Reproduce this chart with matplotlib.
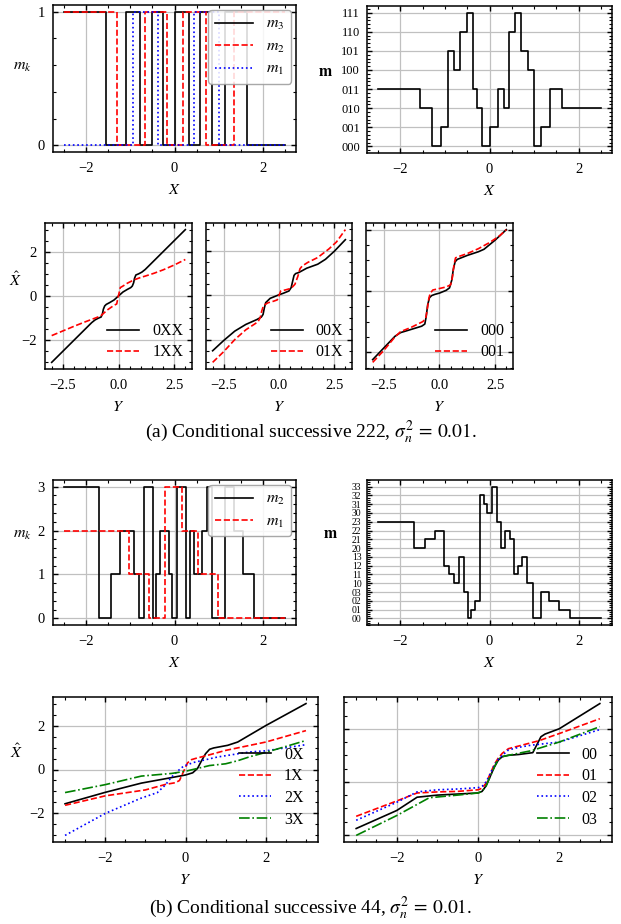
import numpy as np
import matplotlib
matplotlib.use("Agg")
from matplotlib import pyplot as plt
from matplotlib.ticker import MultipleLocator, AutoMinorLocator, FixedLocator

# --- (a) 3-bit conditional successive quantizer, codeword steps over X ---
edges_a = [-2.5, -1.55, -1.30, -1.10, -0.93, -0.79, -0.66, -0.50, -0.37, -0.27, -0.16,
           0.0, 0.19, 0.33, 0.44, 0.57, 0.71, 0.86, 1.0, 1.15, 1.35, 1.63, 2.5]
codes_a = ['011', '010', '000', '001', '101', '100', '110', '111', '011', '010', '000',
           '001', '011', '010', '110', '111', '101', '100', '000', '001', '011', '010']
labels_a = ['000', '001', '010', '011', '100', '101', '110', '111']

# reconstruction curves Xhat(Y)
a1_black_x = [-3.0, -2.0, -1.2, -1.05, -0.9, -0.78, -0.72, -0.68, -0.62, -0.55, -0.4, -0.2, 0.0,
              0.2, 0.4, 0.55, 0.62, 0.68, 0.72, 0.78, 0.9, 1.05, 1.2, 2.0, 3.0]
a1_black_y = [-3.0, -2.0, -1.2, -1.08, -1.0, -0.95, -0.8, -0.6, -0.45, -0.38, -0.3, -0.18, 0.0,
              0.18, 0.3, 0.38, 0.45, 0.6, 0.8, 0.95, 1.0, 1.08, 1.2, 2.0, 3.0]
a1_red_x = [-3.0, -2.5, -2.0, -1.5, -1.0, -0.8, -0.5, -0.2, -0.08, -0.03, 0.03, 0.08, 0.2,
            0.4, 0.7, 1.0, 1.2, 1.6, 2.0, 2.5, 3.0]
a1_red_y = [-1.79, -1.58, -1.37, -1.17, -0.98, -0.9, -0.63, -0.42, -0.36, -0.1, 0.15, 0.38, 0.45,
            0.58, 0.73, 0.84, 0.9, 1.03, 1.18, 1.4, 1.65]

a2_black_x = [-3.0, -2.5, -2.0, -1.5, -1.0, -0.8, -0.72, -0.66, -0.6, -0.4, -0.2, 0.0, 0.2, 0.45,
              0.55, 0.62, 0.68, 0.75, 0.9, 1.25, 1.75, 2.1, 2.5, 3.0]
a2_black_y = [-2.48, -2.02, -1.6, -1.3, -1.08, -0.97, -0.85, -0.55, -0.32, -0.13, -0.05, 0.03, 0.1,
              0.2, 0.35, 0.65, 0.9, 0.98, 1.03, 1.22, 1.4, 1.62, 1.98, 2.5]
a2_red_x = [-3.0, -2.5, -2.0, -1.5, -1.1, -0.95, -0.85, -0.78, -0.7, -0.5, -0.25, -0.08, 0.0, 0.08,
            0.3, 0.55, 0.72, 0.85, 0.95, 1.05, 1.3, 1.75, 2.25, 2.6, 3.0]
a2_red_y = [-3.0, -2.52, -1.98, -1.54, -1.28, -1.18, -1.0, -0.7, -0.45, -0.33, -0.26, -0.2, 0.0, 0.2,
            0.25, 0.32, 0.5, 0.85, 1.2, 1.32, 1.48, 1.7, 2.08, 2.4, 2.95]

a3_black_x = [-3.0, -2.5, -2.0, -1.75, -1.25, -0.8, -0.66, -0.6, -0.53, -0.45, -0.35, -0.2, 0.0,
              0.3, 0.45, 0.55, 0.62, 0.7, 0.8, 1.25, 1.75, 2.0, 2.5, 3.0]
a3_black_y = [-2.24, -1.86, -1.48, -1.36, -1.25, -1.15, -1.08, -0.85, -0.45, -0.22, -0.15, -0.11,
              -0.07, 0.02, 0.1, 0.35, 0.7, 0.95, 1.03, 1.16, 1.28, 1.36, 1.66, 2.0]
a3_red_x = [-3.0, -2.5, -2.0, -1.75, -1.25, -0.75, -0.62, -0.55, -0.48, -0.42, -0.3, 0.0, 0.3,
            0.5, 0.58, 0.65, 0.72, 0.85, 1.25, 1.75, 2.25, 2.7, 3.0]
a3_red_y = [-2.33, -1.94, -1.5, -1.33, -1.18, -1.0, -0.9, -0.6, -0.25, -0.08, 0.03, 0.08, 0.13,
            0.2, 0.45, 0.85, 1.08, 1.12, 1.22, 1.38, 1.58, 1.8, 2.0]

# --- (b) 4-ary conditional successive quantizer ---
edges_b = [-2.5, -1.70, -1.44, -1.23, -1.02, -0.92, -0.80, -0.69, -0.58, -0.49, -0.41, -0.33,
           -0.22, -0.13, -0.05, 0.06, 0.17, 0.25, 0.35, 0.45, 0.54, 0.63, 0.74, 0.84, 0.98,
           1.15, 1.34, 1.55, 1.81, 2.5]
codes_b = ['23', '20', '21', '22', '12', '11', '10', '13', '03', '00', '01', '02', '32', '31',
           '30', '33', '23', '20', '22', '21', '11', '12', '13', '10', '00', '03', '02', '01', '00']
labels_b = [f'{i}{j}' for i in range(4) for j in range(4)]

b1_x = {
    '0X': [-3.0, -2.0, -1.1, -0.5, 0.0, 0.18, 0.3, 0.4, 0.5, 0.6, 0.7, 1.05, 1.3, 2.0, 3.0],
    '1X': [-3.0, -2.0, -1.0, -0.5, -0.25, -0.15, -0.05, 0.05, 0.15, 0.3, 0.5, 1.0, 2.0, 3.0],
    '2X': [-3.0, -2.0, -1.1, -0.7, -0.5, -0.35, -0.2, -0.05, 0.2, 0.8, 1.6, 2.0, 3.0],
    '3X': [-3.0, -2.0, -1.1, -0.35, 0.0, 0.3, 0.6, 1.0, 1.3, 1.6, 2.0, 3.0],
}
b1_y = {
    '0X': [-1.56, -1.04, -0.62, -0.42, -0.25, -0.15, 0.05, 0.4, 0.72, 0.92, 0.98, 1.1, 1.25, 2.0, 3.0],
    '1X': [-1.63, -1.2, -0.93, -0.68, -0.6, -0.5, -0.1, 0.3, 0.45, 0.53, 0.62, 0.87, 1.25, 1.77],
    '2X': [-3.0, -2.0, -1.3, -1.05, -0.7, -0.35, -0.08, 0.15, 0.32, 0.57, 0.8, 0.85, 1.13],
    '3X': [-1.05, -0.69, -0.3, -0.18, -0.08, 0.05, 0.18, 0.26, 0.4, 0.58, 0.78, 1.32],
}
b2_x = {
    '00': [-3.0, -2.0, -1.6, -1.5, -1.0, -0.5, 0.0, 0.1, 0.2, 0.3, 0.4, 0.5, 0.6, 0.75, 1.0, 1.35,
           1.45, 1.55, 1.65, 2.0, 3.0],
    '01': [-3.0, -2.0, -1.5, -1.0, -0.5, 0.0, 0.1, 0.2, 0.3, 0.4, 0.5, 0.6, 0.75, 1.0, 1.5, 2.0, 3.0],
    '02': [-3.0, -2.0, -1.5, -1.0, -0.5, 0.0, 0.1, 0.2, 0.3, 0.4, 0.5, 0.6, 0.75, 1.0, 1.3, 2.0, 3.0],
    '03': [-3.0, -2.0, -1.2, -0.5, 0.0, 0.1, 0.2, 0.3, 0.4, 0.5, 0.6, 0.75, 1.3, 2.0, 3.0],
}
b2_y = {
    '00': [-1.76, -1.08, -0.68, -0.58, -0.5, -0.46, -0.42, -0.36, -0.15, 0.2, 0.55, 0.82, 0.95, 1.0,
           1.03, 1.1, 1.4, 1.7, 1.8, 2.0, 2.95],
    '01': [-1.3, -0.72, -0.42, -0.38, -0.36, -0.3, -0.24, -0.05, 0.3, 0.65, 0.9, 1.08, 1.25, 1.35,
           1.55, 1.82, 2.38],
    '02': [-1.45, -0.77, -0.38, -0.3, -0.27, -0.22, -0.17, 0.0, 0.3, 0.62, 0.85, 1.0, 1.2, 1.3,
           1.38, 1.5, 1.97],
    '03': [-2.02, -1.27, -0.6, -0.5, -0.42, -0.36, -0.15, 0.2, 0.55, 0.85, 0.95, 1.0, 1.17, 1.5, 2.08],
}

plt.rcParams.update({
    'font.family': 'serif',
    'font.serif': ['Liberation Serif', 'DejaVu Serif'],
    'mathtext.fontset': 'stix',
    'font.size': 10.5,
    'axes.linewidth': 1.1,
    'xtick.direction': 'in', 'ytick.direction': 'in',
    'xtick.top': True, 'ytick.right': True,
    'xtick.major.size': 3.5, 'ytick.major.size': 3.5,
    'xtick.minor.size': 2, 'ytick.minor.size': 2,
    'xtick.major.width': 1.0, 'ytick.major.width': 1.0,
    'xtick.minor.width': 0.8, 'ytick.minor.width': 0.8,
    'xtick.major.pad': 7, 'ytick.major.pad': 6,
    'legend.fontsize': 11.5,
})

W, H = 621, 924
LW = 1.2
fig = plt.figure(figsize=(W / 100, H / 100), dpi=100)


def px_axes(l, t, r, b):
    return fig.add_axes([l / W, 1 - b / H, (r - l) / W, (b - t) / H])


def style(ax, xmaj, xmin, ymaj, ymin):
    ax.xaxis.set_major_locator(MultipleLocator(xmaj))
    ax.xaxis.set_minor_locator(MultipleLocator(xmin))
    if ymaj is not None:
        ax.yaxis.set_major_locator(MultipleLocator(ymaj))
        ax.yaxis.set_minor_locator(MultipleLocator(ymin))
    ax.grid(True, which='major', color='#c0c0c0', lw=0.9)
    ax.set_axisbelow(True)


def ylab(ax, text, x, y):
    ax.set_ylabel(text, rotation=0, fontsize=11.5)
    ax.yaxis.set_label_coords(x, y)


def bits_plot(ax, edges, codes, base, names, colors, styles):
    ndig = len(codes[0])
    for k in reversed(range(ndig)):
        vals = [int(c[k], base) for c in codes]
        ax.step(edges, vals + [vals[-1]], where='post', color=colors[k], ls=styles[k],
                lw=LW, label=names[k])


def code_plot(ax, edges, codes, base, labels):
    idx = [int(c, base) for c in codes]
    ax.step(edges, idx + [idx[-1]], where='post', color='k', lw=LW)
    ax.yaxis.set_major_locator(FixedLocator(range(len(labels))))
    ax.set_yticklabels(labels)


# ---------------- (a) ----------------
ax = px_axes(53, 5, 296, 152)
bits_plot(ax, edges_a, codes_a, 2, [r'$m_1$', r'$m_2$', r'$m_3$'], ['b', 'r', 'k'], [':', '--', '-'])
style(ax, 2, 0.5, 1, 0.2)
ax.set_xlabel(r'$X$', labelpad=5, fontsize=11.5)
ylab(ax, r'$m_k$', -0.125, 0.53)
ax.legend(loc='upper right', fancybox=True, edgecolor='0.6', framealpha=0.85, handlelength=2.4,
          borderaxespad=0.3, labelspacing=0.4)

ax = px_axes(367, 6, 612, 153)
code_plot(ax, edges_a, codes_a, 2, labels_a)
style(ax, 2, 0.5, None, None)
ax.yaxis.set_minor_locator(AutoMinorLocator(5))
ax.tick_params(axis='y', labelsize=9, pad=5)
ax.set_xlabel(r'$X$', labelpad=5, fontsize=11.5)
ylab(ax, r'$\mathbf{m}$', -0.17, 0.5)

panels_a = [((45, 223, 192, 369), a1_black_x, a1_black_y, a1_red_x, a1_red_y, '0XX', '1XX'),
            ((206, 223, 352, 369), a2_black_x, a2_black_y, a2_red_x, a2_red_y, '00X', '01X'),
            ((366, 223, 513, 369), a3_black_x, a3_black_y, a3_red_x, a3_red_y, '000', '001')]
for i, (box, bx, by, rx, ry, lb, lr) in enumerate(panels_a):
    ax = px_axes(*box)
    ax.plot(bx, by, color='k', lw=LW, label=lb)
    ax.plot(rx, ry, color='r', ls='--', lw=LW, label=lr)
    style(ax, 2.5, 0.5, 2, 0.5)
    ax.set_xlabel(r'$Y$', labelpad=5, fontsize=11.5)
    if i == 0:
        ylab(ax, r'$\hat{X}$', -0.2, 0.54)
    else:
        ax.set_yticklabels([])
    ax.legend(loc='lower right', frameon=False, handlelength=2.0, borderaxespad=0.15,
              labelspacing=0.3)

fig.text(0.5, 1 - 432 / H, r'(a) Conditional successive 222, $\sigma_n^2\,=\,0.01$.',
         ha='center', va='center', fontsize=14)

# ---------------- (b) ----------------
ax = px_axes(53, 480, 296, 625)
bits_plot(ax, edges_b, codes_b, 4, [r'$m_1$', r'$m_2$'], ['r', 'k'], ['--', '-'])
style(ax, 2, 0.5, 1, 0.2)
ax.set_xlabel(r'$X$', labelpad=5, fontsize=11.5)
ylab(ax, r'$m_k$', -0.125, 0.57)
ax.legend(loc='upper right', fancybox=True, edgecolor='0.6', framealpha=0.85, handlelength=2.4,
          borderaxespad=0.3, labelspacing=0.4)

ax = px_axes(367, 480, 612, 625)
code_plot(ax, edges_b, codes_b, 4, labels_b)
style(ax, 2, 0.5, None, None)
ax.yaxis.set_minor_locator(AutoMinorLocator(4))
ax.tick_params(axis='y', labelsize=7, pad=4)
ax.set_xlabel(r'$X$', labelpad=5, fontsize=11.5)
ylab(ax, r'$\mathbf{m}$', -0.15, 0.57)

colors_b = ['k', 'r', 'b', 'g']
lines_b = ['-', '--', ':', '-.']
for i, (box, xs, ys) in enumerate([((53, 697, 318, 842), b1_x, b1_y),
                                   ((344, 697, 612, 842), b2_x, b2_y)]):
    ax = px_axes(*box)
    for (name, c, ls) in zip(xs.keys(), colors_b, lines_b):
        ax.plot(xs[name], ys[name], color=c, ls=ls, lw=LW, label=name)
    style(ax, 2, 0.5, 2, 0.5)
    ax.set_xlabel(r'$Y$', labelpad=5, fontsize=11.5)
    if i == 0:
        ylab(ax, r'$\hat{X}$', -0.136, 0.55)
    else:
        ax.set_yticklabels([])
    ax.legend(loc='lower right', frameon=False, handlelength=2.0, borderaxespad=0.5,
              labelspacing=0.35)

fig.text(0.5, 1 - 908 / H, r'(b) Conditional successive 44, $\sigma_n^2\,=\,0.01$.',
         ha='center', va='center', fontsize=14)

fig.savefig('out.png', dpi=100)
